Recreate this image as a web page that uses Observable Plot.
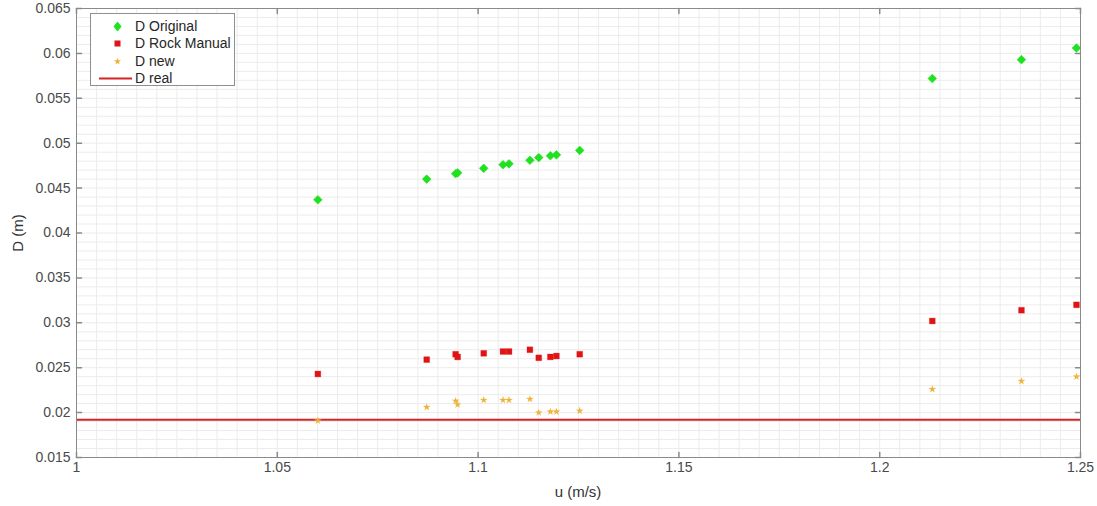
<!DOCTYPE html>
<html>
<head>
<meta charset="utf-8">
<script src="https://cdn.jsdelivr.net/npm/d3@7"></script>
<script src="https://cdn.jsdelivr.net/npm/@observablehq/plot@0.6"></script>
<style>
  html, body { margin: 0; padding: 0; background: #fff; }
  #wrap { position: relative; width: 1097px; height: 506px; font-family: "Liberation Sans", Arial, sans-serif; }
  #legend { position: absolute; left: 90px; top: 13px; width: 145px; height: 73px; border: 1px solid #8f8f8f; background: #fff; box-sizing: border-box; }
  .row { position: absolute; left: 0; height: 17px; width: 100%; font-size: 14px; color: #262626; line-height: 17px; }
  .row svg { position: absolute; left: 0; top: 0; }
  .row span { position: absolute; left: 44px; top: 0; white-space: nowrap; }
  .alabel { position: absolute; font-size: 15px; color: #333; white-space: nowrap; line-height: 18px; }
  #xlabel { left: 578px; top: 483px; transform: translateX(-50%); }
  #ylabel { left: 18px; top: 233px; transform: translate(-50%, -50%) rotate(-90deg); }
</style>
</head>
<body>
<div id="wrap"></div>
<script>
// ---- data ----
const u = [1.0601, 1.0872, 1.0944, 1.0949, 1.1014, 1.1062, 1.1077, 1.1129, 1.1151, 1.1180, 1.1195, 1.1253, 1.2131, 1.2353, 1.2490];
const dOriginal = [0.0437, 0.0460, 0.0466, 0.0467, 0.0472, 0.0476, 0.0477, 0.0481, 0.0484, 0.0486, 0.0487, 0.0492, 0.0572, 0.0593, 0.0606];
const dRockManual = [0.0243, 0.0259, 0.0265, 0.0262, 0.0266, 0.0268, 0.0268, 0.0270, 0.0261, 0.0262, 0.0263, 0.0265, 0.0302, 0.0314, 0.0320];
const dNew = [0.0191, 0.0206, 0.0213, 0.0209, 0.0214, 0.0214, 0.0214, 0.0215, 0.0200, 0.0201, 0.0201, 0.0202, 0.0226, 0.0235, 0.0240];
const dReal = 0.0192;
const xTicks = [1, 1.05, 1.1, 1.15, 1.2, 1.25];
const yTicks = [0.015, 0.02, 0.025, 0.03, 0.035, 0.04, 0.045, 0.05, 0.055, 0.06, 0.065];
const seriesNames = ["D Original", "D Rock Manual", "D new", "D real"];
const xLabel = "u (m/s)";
const yLabel = "D (m)";

// ---- derived ----
const rows = u.map((x, i) => ({u: x, orig: dOriginal[i], rock: dRockManual[i], nw: dNew[i]}));
const xMinor = d3.range(0, 51).map(i => +(1 + i * 0.005).toFixed(4));
const yMinor = d3.range(0, 51).map(i => +(0.015 + i * 0.001).toFixed(4));
const fmt = d => String(+d.toFixed(3));
const tickShape = {draw(ctx, l) { ctx.moveTo(0, 0); ctx.lineTo(0, -l); }};

const cGreen = "#1fe21f", cRed = "#e01414", cStar = "#efb236", cLine = "#d42424", cAxis = "#8a8a8a", cText = "#4a4a4a";

const chart = Plot.plot({
  width: 1097, height: 506,
  marginLeft: 76, marginRight: 17, marginTop: 8, marginBottom: 49,
  style: {fontFamily: "Liberation Sans, Arial, sans-serif", fontSize: "14px", background: "#fff"},
  x: {domain: [1, 1.25]},
  y: {domain: [0.015, 0.065]},
  marks: [
    Plot.gridX(xMinor, {stroke: "#ececec", strokeOpacity: 1}),
    Plot.gridY(yMinor, {stroke: "#ececec", strokeOpacity: 1}),
    Plot.ruleY([dReal], {stroke: cLine, strokeWidth: 2}),
    Plot.dot(rows, {x: "u", y: "orig", symbol: "diamond2", r: 3.9, fill: cGreen, stroke: cGreen, strokeWidth: 0.6}),
    Plot.dot(rows, {x: "u", y: "rock", symbol: "square", r: 3.3, fill: cRed, stroke: cRed, strokeWidth: 0.3}),
    Plot.dot(rows, {x: "u", y: "nw", symbol: "star", r: 2.2, fill: cStar, stroke: cStar, strokeWidth: 0.2}),
    Plot.frame({stroke: cAxis}),
    Plot.axisX(xTicks, {anchor: "bottom", tickSize: 0, tickPadding: 5, tickFormat: fmt, color: cText, fontSize: 14, label: null}),
    Plot.axisY(yTicks, {anchor: "left", tickSize: 0, tickPadding: 6, tickFormat: fmt, color: cText, fontSize: 14, label: null}),
    // inward ticks on all four sides
    Plot.vector(xTicks, {x: d => d, frameAnchor: "bottom", length: 5, rotate: 0, anchor: "start", shape: tickShape, stroke: cAxis}),
    Plot.vector(xTicks, {x: d => d, frameAnchor: "top", length: 5, rotate: 180, anchor: "start", shape: tickShape, stroke: cAxis}),
    Plot.vector(yTicks, {y: d => d, frameAnchor: "left", length: 5, rotate: 90, anchor: "start", shape: tickShape, stroke: cAxis}),
    Plot.vector(yTicks, {y: d => d, frameAnchor: "right", length: 5, rotate: -90, anchor: "start", shape: tickShape, stroke: cAxis})
  ]
});

const wrap = document.getElementById("wrap");
wrap.appendChild(chart);

// axis titles
const xl = document.createElement("div"); xl.className = "alabel"; xl.id = "xlabel"; xl.textContent = xLabel; wrap.appendChild(xl);
const yl = document.createElement("div"); yl.className = "alabel"; yl.id = "ylabel"; yl.textContent = yLabel; wrap.appendChild(yl);

// ---- legend (HTML) ----
const legend = document.createElement("div");
legend.id = "legend";
const markerSvg = [
  `<svg width="44" height="17"><path d="M26.5,3.5 L30.5,8.5 L26.5,13.5 L22.5,8.5 Z" fill="${cGreen}"/></svg>`,
  `<svg width="44" height="17"><rect x="23.5" y="5.5" width="6" height="6" fill="${cRed}"/></svg>`,
  `<svg width="44" height="17"><path d="${d3.symbol(d3.symbolStar, 16)()}" transform="translate(26.5,8.5)" fill="${cStar}"/></svg>`,
  `<svg width="44" height="17"><line x1="8" x2="41" y1="8.5" y2="8.5" stroke="${cLine}" stroke-width="2"/></svg>`
];
seriesNames.forEach((name, i) => {
  const r = document.createElement("div");
  r.className = "row";
  r.style.top = (4 + i * 17.3) + "px";
  r.innerHTML = markerSvg[i] + `<span>${name}</span>`;
  legend.appendChild(r);
});
wrap.appendChild(legend);
</script>
</body>
</html>
